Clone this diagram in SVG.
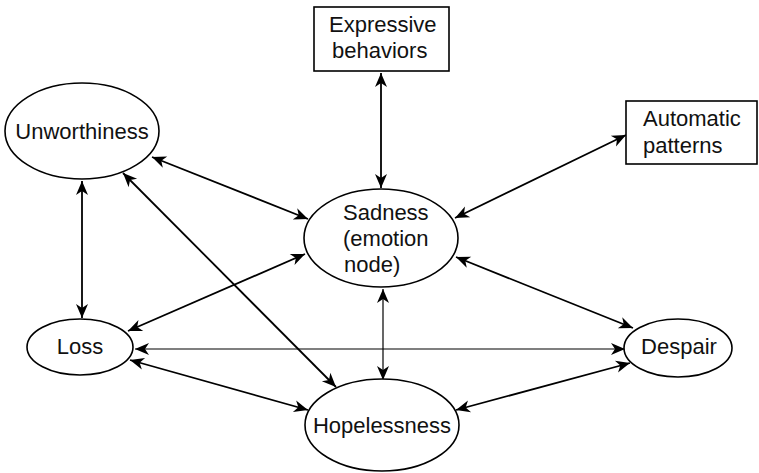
<svg xmlns="http://www.w3.org/2000/svg" width="759" height="473" viewBox="0 0 759 473">
<style>
.node{fill:#fff;stroke:#000;stroke-width:1.6}
.t{font-family:"Liberation Sans",Arial,sans-serif;font-size:22px;fill:#111}
.c{text-anchor:middle}
.e{stroke:#000;stroke-width:1.8;fill:none;marker-start:url(#ah);marker-end:url(#ah)}
.thin{stroke-width:1.2}
</style>
<defs>
<marker id="ah" markerUnits="userSpaceOnUse" viewBox="-15 -7 16 14" refX="0" refY="0" markerWidth="16" markerHeight="14" orient="auto-start-reverse">
<path d="M0,0 L-14,-6 L-10,0 L-14,6 Z" fill="#000"/>
</marker>
</defs>
<rect width="759" height="473" fill="#fff"/>
<g id="connectors">
<line class="e" x1="381" y1="188" x2="381" y2="73"/>
<line class="e" x1="152" y1="157" x2="308" y2="219"/>
<line class="e" x1="626" y1="135" x2="455" y2="218"/>
<line class="e" x1="82" y1="181" x2="82" y2="318"/>
<line class="e" x1="123" y1="173" x2="336" y2="387"/>
<line class="e" x1="128" y1="331" x2="305" y2="254"/>
<line class="e" x1="456" y1="257" x2="633" y2="328"/>
<line class="e thin" x1="383" y1="289" x2="383" y2="380"/>
<line class="e thin" x1="135" y1="349" x2="625" y2="349"/>
<line class="e" x1="130" y1="360" x2="308" y2="410"/>
<line class="e" x1="456" y1="410" x2="630" y2="363"/>
</g>
<g id="expressive">
<rect class="node" x="314" y="7" width="135" height="64"/>
<text class="t" x="329" y="32">Expressive</text>
<text class="t" x="332" y="58">behaviors</text>
</g>
<g id="automatic">
<rect class="node" x="626" y="101" width="131" height="63"/>
<text class="t" x="643" y="126">Automatic</text>
<text class="t" x="643" y="153">patterns</text>
</g>
<g id="unworthiness">
<ellipse class="node" cx="82" cy="131" rx="77" ry="48"/>
<text class="t c" x="82" y="139">Unworthiness</text>
</g>
<g id="sadness">
<ellipse class="node" cx="381" cy="238" rx="77" ry="49"/>
<text class="t" x="343" y="220">Sadness</text>
<text class="t" x="343" y="246">(emotion</text>
<text class="t" x="344" y="272">node)</text>
</g>
<g id="loss">
<ellipse class="node" cx="80" cy="347" rx="53" ry="28"/>
<text class="t c" x="80" y="354">Loss</text>
</g>
<g id="despair">
<ellipse class="node" cx="678" cy="348" rx="54" ry="29"/>
<text class="t c" x="679" y="354">Despair</text>
</g>
<g id="hopelessness">
<ellipse class="node" cx="382" cy="425" rx="77" ry="46"/>
<text class="t c" x="382" y="433">Hopelessness</text>
</g>
</svg>
